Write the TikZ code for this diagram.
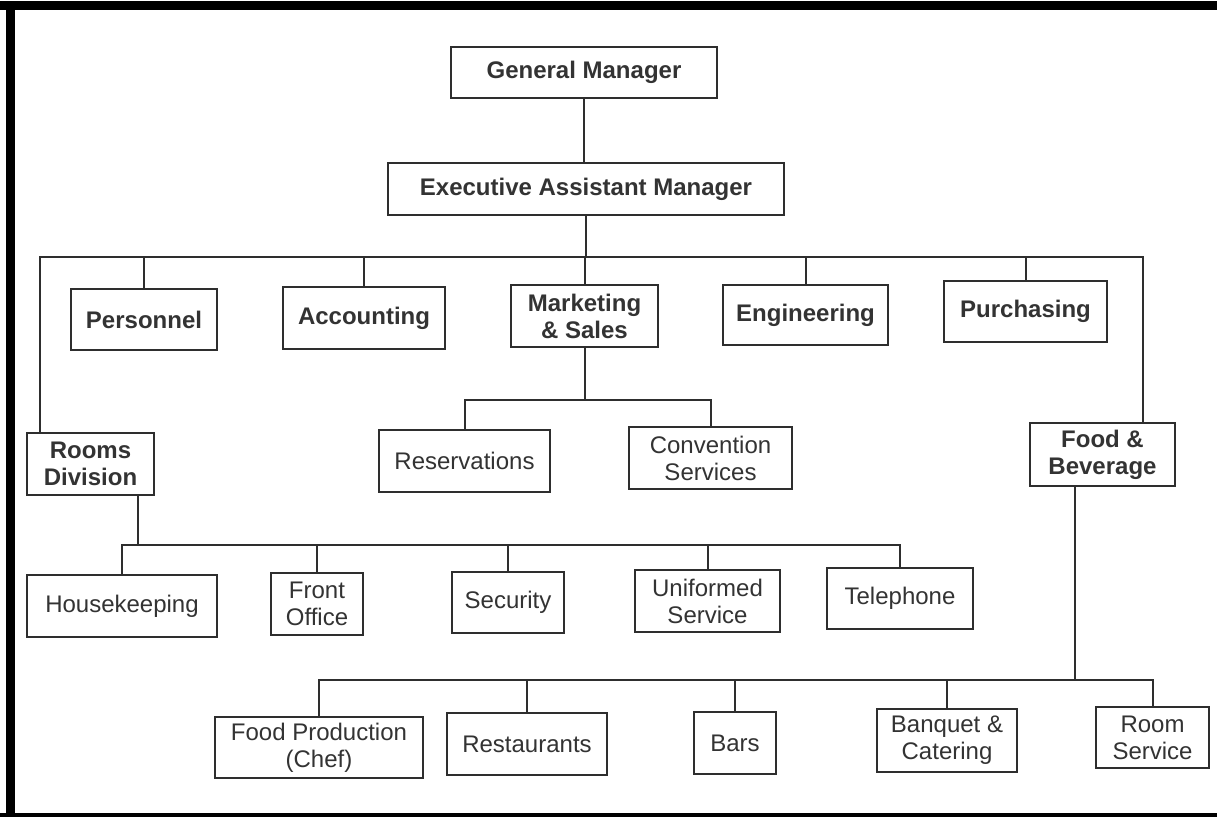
\documentclass[tikz,border=0pt]{standalone}
\usepackage{fontspec}
\setmainfont{Liberation Sans}
\definecolor{linec}{HTML}{2E2E2E}
\definecolor{textc}{HTML}{333333}
\tikzset{
  box/.style={draw=linec, line width=2pt, fill=white, inner sep=0pt,
    text=textc, align=center, font=\fontsize{24}{27}\selectfont},
  headbox/.style={box, font=\fontsize{24}{27}\selectfont\bfseries},
  link/.style={draw=linec, line width=2pt, line join=miter}
}
\begin{document}
\begin{tikzpicture}[x=1pt,y=-1pt]
  % page and frame
  \fill[white] (0,0) rectangle (1217,817);
  \useasboundingbox (0,0) rectangle (1217,817);
  \fill[black] (0,1) rectangle (1217,10);
  \fill[black] (6,1) rectangle (15,817);
  \fill[black] (0,813) rectangle (1217,817);

  % top management
  \node[headbox, minimum width=266pt, minimum height=51pt] (gm)  at (584,72.5) {General Manager};
  \node[headbox, minimum width=396pt, minimum height=52pt] (eam) at (586,189)  {Executive Assistant Manager};

  % departments
  \node[headbox, minimum width=146pt, minimum height=61pt] (pers) at (144,319.5)  {Personnel};
  \node[headbox, minimum width=162pt, minimum height=62pt] (acct) at (364,318)    {Accounting};
  \node[headbox, minimum width=147pt, minimum height=62pt] (mkt)  at (584.5,316)  {Marketing\\\& Sales};
  \node[headbox, minimum width=165pt, minimum height=60pt] (eng)  at (805.5,315)  {Engineering};
  \node[headbox, minimum width=163pt, minimum height=61pt] (pur)  at (1025.5,311.5) {Purchasing};
  \node[headbox, minimum width=127pt, minimum height=62pt] (rd)   at (90.5,464)   {Rooms\\Division};
  \node[headbox, minimum width=145pt, minimum height=63pt] (fb)   at (1102.5,454.5) {Food \&\\Beverage};

  % marketing & sales units
  \node[box, minimum width=171pt, minimum height=62pt] (res)  at (464.5,461) {Reservations};
  \node[box, minimum width=163pt, minimum height=62pt] (conv) at (710.5,458) {Convention\\Services};

  % rooms division units
  \node[box, minimum width=190pt, minimum height=62pt] (hk)  at (122,606)   {Housekeeping};
  \node[box, minimum width=92pt,  minimum height=62pt] (fo)  at (317,604)   {Front\\Office};
  \node[box, minimum width=112pt, minimum height=61pt] (sec) at (508,602.5) {Security};
  \node[box, minimum width=145pt, minimum height=62pt] (uni) at (707.5,601) {Uniformed\\Service};
  \node[box, minimum width=146pt, minimum height=61pt] (tel) at (900,598.5) {Telephone};

  % food & beverage units
  \node[box, minimum width=208pt, minimum height=61pt] (fp)   at (319,747.5)  {Food Production\\(Chef)};
  \node[box, minimum width=160pt, minimum height=62pt] (rest) at (527,744)    {Restaurants};
  \node[box, minimum width=82pt,  minimum height=62pt] (bars) at (735,743)    {Bars};
  \node[box, minimum width=140pt, minimum height=63pt] (banq) at (947,740.5)  {Banquet \&\\Catering};
  \node[box, minimum width=113pt, minimum height=61pt] (rs)   at (1152.5,737.5) {Room\\Service};

  % bus lines
  \coordinate (lbus) at (40,257);
  \coordinate (rbus) at (1143,257);
  \coordinate (mbus) at (0,400);
  \coordinate (rdx)  at (138,0);
  \coordinate (rdbus) at (0,545);
  \coordinate (fbx)  at (1075,0);
  \coordinate (fbbus) at (0,680);

  % management chain
  \draw[link] (gm.south) -- (gm.south |- eam.north);
  \draw[link] (eam.south) -- (eam.south |- lbus);
  \draw[link] (rd.north -| lbus) -- (lbus) -- (rbus) -- (rbus |- fb.north);
  \foreach \n in {pers,acct,mkt,eng,pur}
    \draw[link] (\n.north) -- (\n.north |- lbus);

  % marketing & sales branch
  \draw[link] (mkt.south) -- (mkt.south |- mbus);
  \draw[link] (res.north) -- (res.north |- mbus) -- (conv.north |- mbus) -- (conv.north);

  % rooms division branch
  \draw[link] (rd.south -| rdx) -- (rdx |- rdbus);
  \draw[link] (hk.north) -- (hk.north |- rdbus) -- (tel.north |- rdbus) -- (tel.north);
  \foreach \n in {fo,sec,uni}
    \draw[link] (\n.north) -- (\n.north |- rdbus);

  % food & beverage branch
  \draw[link] (fb.south -| fbx) -- (fbx |- fbbus);
  \draw[link] (fp.north) -- (fp.north |- fbbus) -- (rs.north |- fbbus) -- (rs.north);
  \foreach \n in {rest,bars,banq}
    \draw[link] (\n.north) -- (\n.north |- fbbus);
\end{tikzpicture}
\end{document}
